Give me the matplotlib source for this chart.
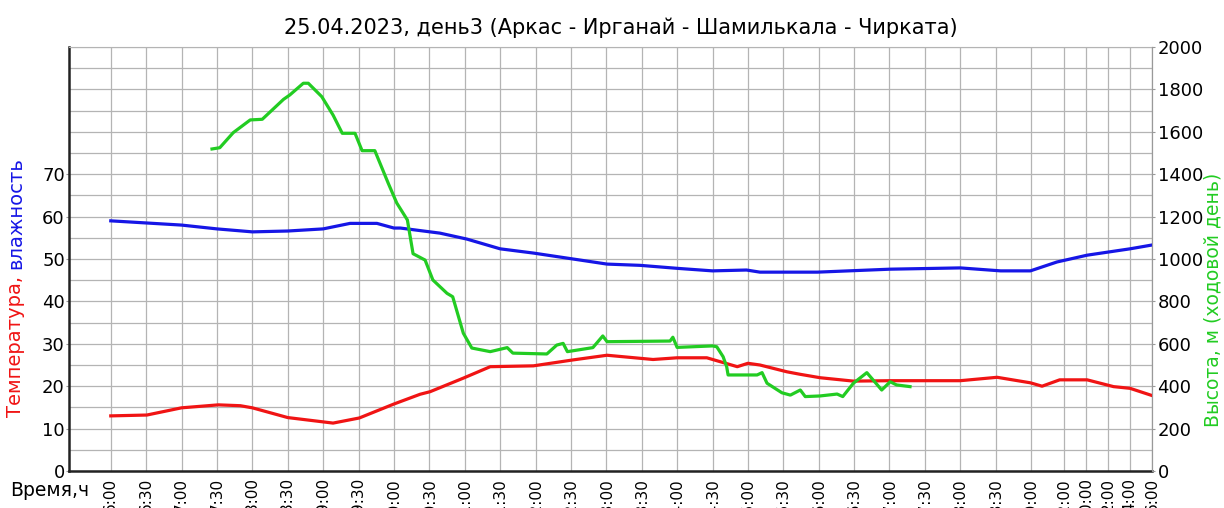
import numpy as np
import matplotlib
matplotlib.use("Agg")
import matplotlib.pyplot as plt

plt.rcParams['font.family'] = ['DejaVu Sans']

title = "25.04.2023, день3 (Аркас - Ирганай - Шамилькала - Чирката)"

# время в часах; значения > 24 - это уже следующие сутки
hum_t = [6.0, 6.5, 7.0, 7.5, 8.0, 8.5, 9.0, 9.38, 9.76, 10.0, 10.09, 10.65, 11.03,
         11.5, 11.97, 12.45, 13.01, 13.48, 14.0, 14.5, 14.98, 15.17, 15.98, 17.01,
         18.0, 18.57, 18.99, 21.36, 24.1, 28.0, 30.0]
hum_v = [59.0, 58.5, 58.0, 57.1, 56.4, 56.6, 57.1, 58.4, 58.4, 57.3, 57.3, 56.1, 54.7,
         52.4, 51.4, 50.2, 48.8, 48.5, 47.8, 47.2, 47.4, 46.9, 46.9, 47.6,
         47.9, 47.2, 47.2, 49.3, 50.9, 52.4, 53.3]

temp_t = [6.0, 6.51, 7.0, 7.52, 7.83, 8.0, 8.5, 9.14, 9.51, 10.0, 10.37, 10.51, 10.98,
          11.36, 11.97, 12.53, 13.01, 13.66, 14.0, 14.42, 14.85, 15.0, 15.17, 15.55,
          15.74, 16.02, 16.49, 17.01, 18.0, 18.52, 18.99, 20.0, 21.6, 24.1, 26.5,
          28.0, 30.0]
temp_v = [13.0, 13.2, 14.9, 15.6, 15.4, 14.9, 12.6, 11.3, 12.5, 15.8, 18.1, 18.7, 21.9,
          24.6, 24.8, 26.2, 27.3, 26.3, 26.7, 26.7, 24.6, 25.4, 25.0, 23.4,
          22.8, 22.0, 21.2, 21.3, 21.3, 22.1, 20.8, 20.0, 21.5, 21.5, 19.9,
          19.5, 17.8]

alt_t = [7.43, 7.54, 7.73, 7.97, 8.14, 8.44, 8.53, 8.72, 8.79, 8.98, 9.14, 9.27, 9.45,
         9.55, 9.73, 9.92, 10.04, 10.19, 10.27, 10.44, 10.55, 10.75, 10.83, 10.98,
         11.1, 11.36, 11.6, 11.68, 12.16, 12.3, 12.39, 12.45, 12.81, 12.95, 13.01,
         13.9, 13.94, 14.0, 14.5, 14.56, 14.65, 14.7, 14.72, 15.13, 15.2, 15.27,
         15.48, 15.6, 15.74, 15.81, 16.02, 16.26, 16.34, 16.49, 16.68, 16.89, 17.01,
         17.1, 17.29]
alt_v = [1519, 1525, 1596, 1656, 1659, 1753, 1774, 1829, 1829, 1766, 1679, 1593, 1593,
         1511, 1511, 1357, 1264, 1184, 1025, 995, 901, 838, 822, 650,
         580, 563, 582, 556, 552, 594, 602, 563, 582, 637, 610,
         613, 631, 583, 590, 586, 539, 492, 453, 453, 464, 414,
         369, 358, 382, 351, 354, 363, 351, 414, 464, 382, 421,
         406, 398]

tick_hours = [6 + 0.5 * i for i in range(27)] + [22, 24, 26, 28, 30]
tick_labels = [f"{int(h)}:{'30' if h % 1 else '00'}" for h in tick_hours[:27]] + \
              ["22:00", "0:00", "2:00", "4:00", "6:00"]

RED = '#f01414'
BLUE = '#1616e6'
GREEN = '#22cc22'

# после 19:00 шкала времени сжата
K = 6.44


def fwd(h):
    h = np.asarray(h, dtype=float)
    return np.where(h <= 19, h, 19 + (h - 19) / K)


def inv(u):
    u = np.asarray(u, dtype=float)
    return np.where(u <= 19, u, 19 + (u - 19) * K)


fig = plt.figure(figsize=(12.24, 5.08), dpi=100)
ax = fig.add_axes([69 / 1224, 1 - 471 / 508, (1152 - 69) / 1224, (471 - 47) / 508])
ax.set_xscale('function', functions=(fwd, inv))

ax.plot(temp_t, temp_v, color=RED, lw=2.3, zorder=3)
ax.plot(hum_t, hum_v, color=BLUE, lw=2.3, zorder=3)

ax.set_xlim(5.41, 30)
ax.set_ylim(0, 100)
ax.set_xticks(tick_hours)
ax.set_xticklabels(tick_labels, rotation=90, fontsize=11)
ax.set_yticks(range(0, 80, 10))
ax.set_yticks(np.arange(0, 101, 5), minor=True)
ax.tick_params(axis='y', which='major', labelsize=13, length=2, pad=1, color='#999999')
ax.tick_params(axis='y', which='minor', length=0)
ax.tick_params(axis='x', length=0, pad=5)
ax.grid(axis='x', which='major', color='#b4b4b4', lw=0.9)
ax.grid(axis='y', which='both', color='#b4b4b4', lw=0.9)
ax.set_axisbelow(True)

ax.spines['left'].set_linewidth(1.8)
ax.spines['left'].set_color('#222222')
ax.spines['bottom'].set_linewidth(1.8)
ax.spines['bottom'].set_color('#222222')
ax.spines['top'].set_color('#b4b4b4')
ax.spines['right'].set_color('#999999')

ax2 = ax.twinx()
ax2.plot(alt_t, alt_v, color=GREEN, lw=2.3)
ax2.set_ylim(0, 2000)
ax2.set_yticks(range(0, 2001, 200))
ax2.tick_params(axis='y', labelsize=13, length=2, pad=2, color='#999999')
for s in ['left', 'top', 'bottom']:
    ax2.spines[s].set_visible(False)
ax2.spines['right'].set_color('#999999')

fig.text(621 / 1224, 1 - 28 / 508, title, ha='center', va='center', fontsize=15)
fig.text(10 / 1224, 1 - 491 / 508, "Время,ч", ha='left', va='center', fontsize=13.5)

# подпись левой оси в два цвета
t_red = fig.text(16 / 1224, 1 - 417 / 508, "Температура,", color=RED, rotation=90,
                 ha='center', va='bottom', fontsize=14)
ax.annotate("влажность", xy=(0.5, 1.0), xycoords=t_red, xytext=(0, 5),
            textcoords='offset points', rotation=90, ha='center', va='bottom',
            color=BLUE, fontsize=14, annotation_clip=False)

fig.text(1213 / 1224, 1 - 300 / 508, "Высота, м (ходовой день)", color=GREEN,
         rotation=90, ha='center', va='center', fontsize=13.5)

fig.savefig('out.png', dpi=100)
